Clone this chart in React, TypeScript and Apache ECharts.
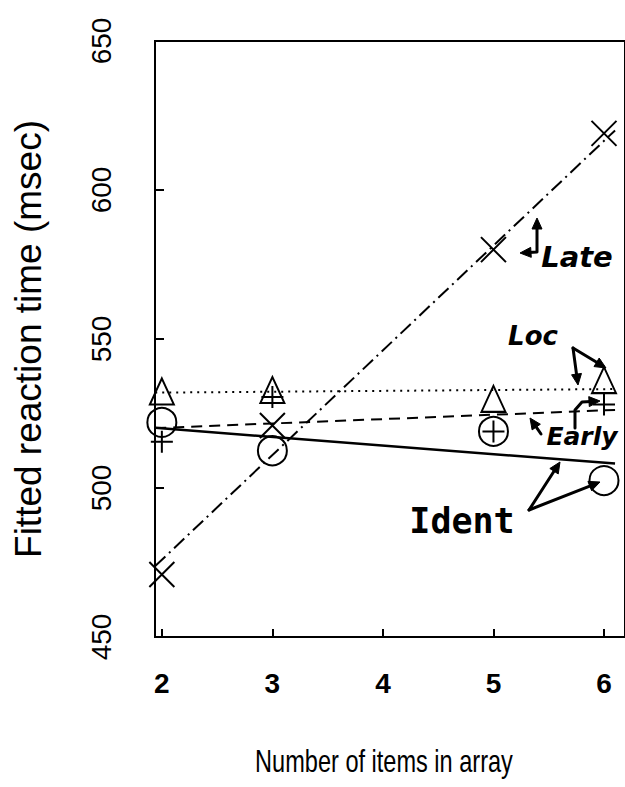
import React, { useEffect, useRef } from "react";
import * as echarts from "echarts";

// ---- data ----
const xTickValues = [2, 3, 4, 5, 6];
const itemCounts = [2, 3, 5, 6];
const identValues = [522, 512.5, 519, 502.5];
const earlyValues = [515.5, 530.5, 519, 528];
const locValues = [532.4, 532.9, 529.9, 536.2];
const lateValues = [471, 521, 580, 619];

// fitted lines, values read at the left and right edges of the plot
const fitX = [1.94, 6.1];
const identFit = [520.2, 508.2];
const earlyFit = [520.1, 526.2];
const locFit = [532.0, 533.2];
const lateFit = [473.8, 620.0];

const X_TITLE = "Number of items in array";
const Y_TITLE = "Fitted reaction time (msec)";

const INK = "#000";
const AXIS_FONT = "'Liberation Sans', Arial, Helvetica, sans-serif";
const HAND_FONT = "'DejaVu Sans', sans-serif";

const pairs = (xs: number[], ys: number[]) => xs.map((x, i) => [x, ys[i]]);

const PLUS = "path://M5,0L5,10M0,5L10,5";
const CROSS = "path://M0,0L10,10M10,0L0,10";

// annotation arrow helper (pixel space, decoration only)
function arrow(points: number[][], headStart: boolean, headEnd: boolean) {
  const L = 11;
  const W = 10;
  const pts = points.map((p) => p.slice());
  const heads: any[] = [];
  const makeHead = (tip: number[], prev: number[]) => {
    const dx = tip[0] - prev[0];
    const dy = tip[1] - prev[1];
    const len = Math.hypot(dx, dy) || 1;
    const ux = dx / len;
    const uy = dy / len;
    const bx = tip[0] - ux * L;
    const by = tip[1] - uy * L;
    const nx = -uy;
    const ny = ux;
    heads.push({
      type: "polygon",
      silent: true,
      shape: {
        points: [
          [tip[0], tip[1]],
          [bx + (nx * W) / 2, by + (ny * W) / 2],
          [bx - (nx * W) / 2, by - (ny * W) / 2],
        ],
      },
      style: { fill: INK, stroke: INK, lineWidth: 1 },
    });
    return [bx + ux * 2, by + uy * 2];
  };
  if (headEnd) {
    const n = pts.length;
    pts[n - 1] = makeHead(points[n - 1], points[n - 2]);
  }
  if (headStart) {
    pts[0] = makeHead(points[0], points[1]);
  }
  return [
    {
      type: "polyline",
      silent: true,
      shape: { points: pts },
      style: { stroke: INK, lineWidth: 3, fill: null, lineJoin: "round", lineCap: "round" },
    },
    ...heads,
  ];
}

function handText(text: string, x: number, y: number, size: number, family: string, italic: boolean) {
  return {
    type: "text",
    silent: true,
    x,
    y,
    style: {
      text,
      fill: INK,
      fontSize: size,
      fontFamily: family,
      fontWeight: "bold",
      fontStyle: italic ? "italic" : "normal",
      align: "center",
      verticalAlign: "middle",
      textAlign: "center",
      textVerticalAlign: "middle",
    },
  };
}

export default function App() {
  const ref = useRef<HTMLDivElement>(null);

  useEffect(() => {
    if (!ref.current) return;
    const chart = echarts.init(ref.current, undefined, { renderer: "svg" });

    const graphics: any[] = [
      {
        type: "text",
        silent: true,
        x: 384,
        y: 761,
        scaleX: 0.76,
        style: {
          text: X_TITLE,
          fill: INK,
          fontSize: 31,
          fontFamily: AXIS_FONT,
          align: "center",
          verticalAlign: "middle",
          textAlign: "center",
          textVerticalAlign: "middle",
        },
      },
      handText("Late", 577, 257, 29, HAND_FONT, true),
      handText("Loc", 533, 336, 26, HAND_FONT, true),
      handText("Early", 582, 436, 25, HAND_FONT, true),
      handText("Ident", 462, 521, 35, "'DejaVu Sans Mono', monospace", false),
      ...arrow([[537, 218], [537, 252], [520, 253]], true, true),
      ...arrow([[573, 348], [578, 385]], false, true),
      ...arrow([[573, 348], [606, 368]], false, true),
      ...arrow([[541, 434], [530, 418]], false, true),
      ...arrow([[575, 428], [575, 410], [582, 402], [600, 401]], false, true),
      ...arrow([[529, 510], [560, 462]], false, true),
      ...arrow([[529, 510], [600, 482]], false, true),
    ];

    const markerStyle = {
      color: "rgba(255,255,255,0)",
      borderColor: INK,
      borderWidth: 2,
      opacity: 1,
    };

    chart.setOption({
      animation: false,
      backgroundColor: "#fff",
      grid: {
        left: 155,
        right: -10,
        top: 41,
        bottom: 150,
        show: true,
        borderColor: INK,
        borderWidth: 2,
        backgroundColor: "transparent",
      },
      xAxis: {
        type: "value",
        min: 1.938,
        max: 6.19,
        axisLine: { show: true, onZero: false, lineStyle: { color: INK, width: 2 } },
        axisTick: {
          show: true,
          inside: true,
          length: 8,
          customValues: xTickValues,
          lineStyle: { color: INK, width: 2 },
        },
        axisLabel: {
          customValues: xTickValues,
          color: INK,
          fontSize: 28,
          fontWeight: "bold",
          fontFamily: AXIS_FONT,
          margin: 32,
        },
        splitLine: { show: false },
      },
      yAxis: {
        type: "value",
        min: 450,
        max: 650,
        interval: 50,
        name: Y_TITLE,
        nameLocation: "middle",
        nameRotate: 90,
        nameGap: 108,
        nameTextStyle: { color: INK, fontSize: 37, fontFamily: AXIS_FONT },
        axisLine: { show: true, lineStyle: { color: INK, width: 2 } },
        axisTick: { show: true, inside: true, length: 9, lineStyle: { color: INK, width: 2 } },
        axisLabel: {
          rotate: 90,
          color: INK,
          fontSize: 28,
          fontFamily: AXIS_FONT,
          margin: 40,
        },
        splitLine: { show: false },
      },
      series: [
        {
          name: "Ident fit",
          type: "line",
          data: pairs(fitX, identFit),
          symbol: "none",
          lineStyle: { color: INK, width: 2.5, type: "solid" },
          z: 2,
        },
        {
          name: "Early fit",
          type: "line",
          data: pairs(fitX, earlyFit),
          symbol: "none",
          lineStyle: { color: INK, width: 2, type: [11, 7] },
          z: 2,
        },
        {
          name: "Loc fit",
          type: "line",
          data: pairs(fitX, locFit),
          symbol: "none",
          lineStyle: { color: INK, width: 2, type: [2, 5] },
          z: 2,
        },
        {
          name: "Late fit",
          type: "line",
          data: pairs(fitX, lateFit),
          symbol: "none",
          lineStyle: { color: INK, width: 2, type: [14, 5, 2, 5] },
          z: 2,
        },
        {
          name: "Ident",
          type: "scatter",
          data: pairs(itemCounts, identValues),
          symbol: "circle",
          symbolSize: 29,
          itemStyle: markerStyle,
          z: 3,
        },
        {
          name: "Loc",
          type: "scatter",
          data: pairs(itemCounts, locValues),
          symbol: "triangle",
          symbolSize: [24, 26],
          itemStyle: markerStyle,
          z: 3,
        },
        {
          name: "Early",
          type: "scatter",
          data: pairs(itemCounts, earlyValues),
          symbol: PLUS,
          symbolSize: 22,
          itemStyle: markerStyle,
          z: 3,
        },
        {
          name: "Late",
          type: "scatter",
          data: pairs(itemCounts, lateValues),
          symbol: CROSS,
          symbolSize: 25,
          itemStyle: markerStyle,
          z: 3,
        },
      ],
      graphic: graphics,
    });

    return () => chart.dispose();
  }, []);

  return (
    <div
      ref={ref}
      style={{ position: "absolute", left: 0, top: 0, width: 625, height: 787, background: "#fff" }}
    />
  );
}
